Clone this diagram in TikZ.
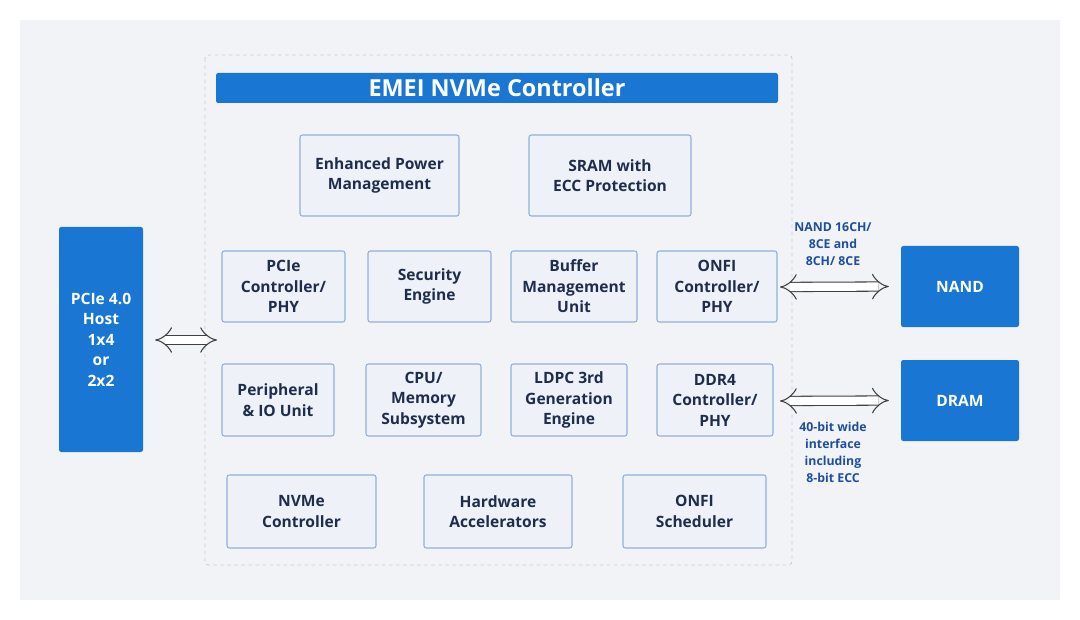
\documentclass[tikz,border=0pt]{standalone}
\usepackage{fontspec}
\setmainfont{Open Sans}
\usetikzlibrary{arrows.meta}
\definecolor{bgGray}{HTML}{F2F3F7}
\definecolor{mainBlue}{HTML}{1976D2}
\definecolor{boxFill}{HTML}{EEF2F8}
\definecolor{boxLine}{HTML}{8FB0DA}
\definecolor{boxText}{HTML}{1F2D4D}
\definecolor{noteText}{HTML}{1E4E9E}
\begin{document}
\begin{tikzpicture}[x=0.03cm,y=-0.03cm,
	block/.style={draw=boxLine,fill=boxFill,rounded corners=2pt,line width=0.9pt,align=center,
		text=boxText,font=\fontsize{13.3}{17.5}\selectfont\bfseries,inner sep=0pt},
	ext/.style={fill=mainBlue,rounded corners=2pt,align=center,text=white,
		font=\fontsize{13.3}{17.5}\selectfont\bfseries,inner sep=0pt},
	note/.style={align=center,text=noteText,font=\fontsize{10.5}{14.5}\selectfont\bfseries},
	bus/.style={double=white,double distance=7pt,draw=black!75,line width=0.9pt,{Implies}-{Implies}}]
	\useasboundingbox (0,0) rectangle (1080,620);
	\fill[bgGray] (20,20) rectangle (1060,600);
	\draw[black!20,dashed,line width=0.8pt,rounded corners=3pt] (205,55) rectangle (792,565);
	\node[fill=mainBlue,rounded corners=2pt,text=white,font=\fontsize{20}{22}\selectfont\bfseries,
		minimum width=562*0.03cm,minimum height=30*0.03cm,inner sep=0pt] (title) at (497,88) {EMEI NVMe Controller};
	% inner blocks
	\node[block,minimum width=159*0.03cm,minimum height=81*0.03cm] (epm) at (379.5,175.5) {Enhanced Power\\Management};
	\node[block,minimum width=162*0.03cm,minimum height=81*0.03cm] (sram) at (610,175.5) {SRAM with\\ECC Protection};
	\node[block,minimum width=123*0.03cm,minimum height=71*0.03cm] (pcie) at (283.5,286.5) {PCIe\\Controller/\\PHY};
	\node[block,minimum width=123*0.03cm,minimum height=71*0.03cm] (sec) at (429.5,286.5) {Security\\Engine};
	\node[block,minimum width=126*0.03cm,minimum height=71*0.03cm] (buf) at (574,286.5) {Buffer\\Management\\Unit};
	\node[block,minimum width=120*0.03cm,minimum height=71*0.03cm] (onfi) at (717,286.5) {ONFI\\Controller/\\PHY};
	\node[block,minimum width=112*0.03cm,minimum height=72*0.03cm] (per) at (278,400) {Peripheral\\\& IO Unit};
	\node[block,minimum width=115*0.03cm,minimum height=72*0.03cm] (cpu) at (423.5,400) {CPU/\\Memory\\Subsystem};
	\node[block,minimum width=116*0.03cm,minimum height=72*0.03cm] (ldpc) at (569,400) {LDPC 3rd\\Generation\\Engine};
	\node[block,minimum width=116*0.03cm,minimum height=72*0.03cm] (ddr) at (715,400) {DDR4\\Controller/\\PHY};
	\node[block,minimum width=149*0.03cm,minimum height=73*0.03cm] (nvme) at (301.5,511.5) {NVMe\\Controller};
	\node[block,minimum width=148*0.03cm,minimum height=73*0.03cm] (hwa) at (498,511.5) {Hardware\\Accelerators};
	\node[block,minimum width=143*0.03cm,minimum height=73*0.03cm] (sched) at (694.5,511.5) {ONFI\\Scheduler};
	% outside parts
	\node[ext,minimum width=84*0.03cm,minimum height=225*0.03cm] (host) at (101,339.5) {PCIe 4.0\\Host\\1x4\\or\\2x2};
	\node[ext,minimum width=118*0.03cm,minimum height=81*0.03cm] (nand) at (960,286.5) {NAND};
	\node[ext,minimum width=118*0.03cm,minimum height=81*0.03cm] (dram) at (960,400.5) {DRAM};
	\coordinate (hostIn) at (217,340);
	\coordinate (nandOut) at (780,287);
	\coordinate (dramOut) at (780,401);
	\draw[bus] ([xshift=12*0.03cm]host.east |- hostIn) -- (hostIn);
	\draw[bus] (nandOut) -- ([xshift=-12*0.03cm]nand.west);
	\draw[bus] (dramOut) -- ([xshift=-12*0.03cm]dram.west);
	\node[note] (nandNote) at (833,244) {NAND 16CH/\\8CE and\\8CH/ 8CE};
	\node[note] (dramNote) at (833,452) {40-bit wide\\interface\\including\\8-bit ECC};
\end{tikzpicture}
\end{document}
